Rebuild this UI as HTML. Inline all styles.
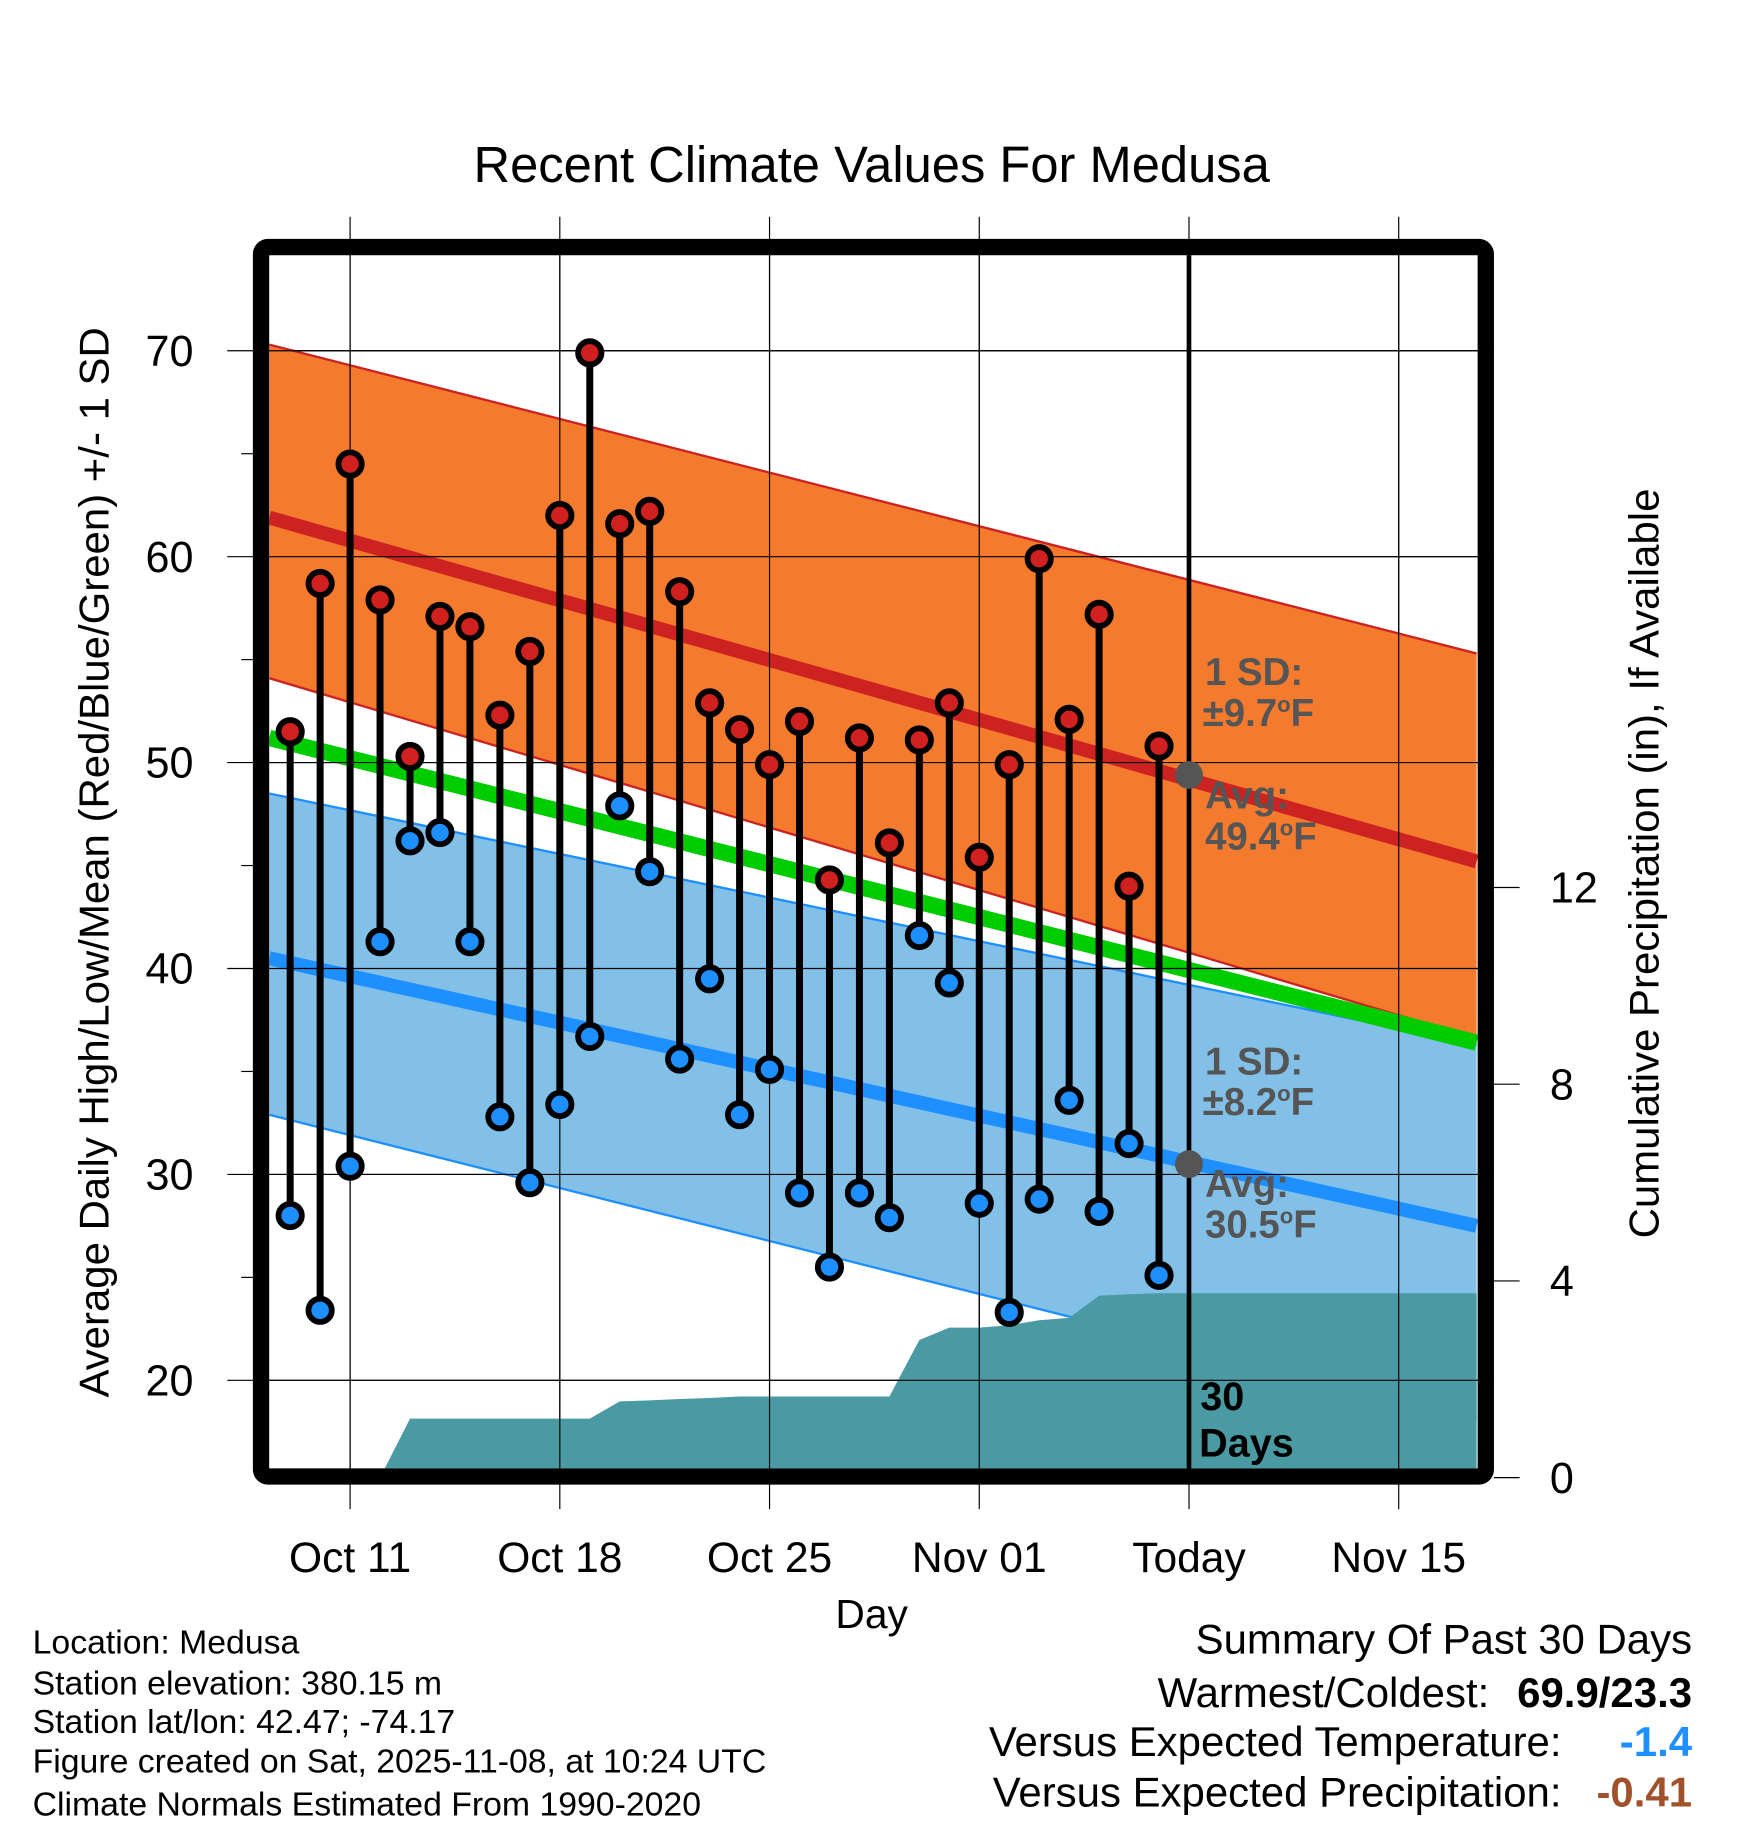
<!DOCTYPE html>
<html><head><meta charset="utf-8"><style>
html,body{margin:0;padding:0;background:#fff;}
svg{display:block;font-family:"Liberation Sans",Arial,sans-serif;}
</style></head><body>
<svg id="chart" width="1748" height="1828" viewBox="0 0 1500 1568.65" xmlns="http://www.w3.org/2000/svg">
<defs><clipPath id="plotclip"><rect x="231" y="219" width="1037" height="1041"/></clipPath></defs>
<rect x="0" y="0" width="1500" height="1569" fill="#fff"/>
<text x="748" y="156" font-size="43.5" text-anchor="middle">Recent Climate Values For Medusa</text>
<g id="grid"></g>
<g id="plot" clip-path="url(#plotclip)"></g>
<g id="marks"></g>
<rect x="224" y="212" width="1051" height="1055" rx="6" fill="none" stroke="#000" stroke-width="14"/>
<g id="axes"></g>
<text transform="translate(93,740) rotate(-90)" font-size="36" text-anchor="middle">Average Daily High/Low/Mean (Red/Blue/Green) +/- 1 SD</text>
<text transform="translate(1423,741) rotate(-90)" font-size="36" text-anchor="middle">Cumulative Precipitation (in), If Available</text>
<text x="748" y="1397" font-size="35" text-anchor="middle">Day</text>
<g font-size="29">
<text x="28" y="1419">Location: Medusa</text>
<text x="28" y="1454">Station elevation: 380.15 m</text>
<text x="28" y="1487">Station lat/lon: 42.47; -74.17</text>
<text x="28" y="1521">Figure created on Sat, 2025-11-08, at 10:24 UTC</text>
<text x="28" y="1558">Climate Normals Estimated From 1990-2020</text>
</g>
<g font-size="36">
<text x="1452" y="1419" text-anchor="end">Summary Of Past 30 Days</text>
<text x="1278" y="1465" text-anchor="end">Warmest/Coldest:</text>
<text x="1452" y="1465" text-anchor="end" font-weight="bold">69.9/23.3</text>
<text x="1340" y="1507" text-anchor="end">Versus Expected Temperature:</text>
<text x="1452" y="1507" text-anchor="end" font-weight="bold" fill="#1e8fff">-1.4</text>
<text x="1340" y="1550" text-anchor="end">Versus Expected Precipitation:</text>
<text x="1452" y="1550" text-anchor="end" font-weight="bold" fill="#a0522d">-0.41</text>
</g>
</svg>
<script>
const highs=[51.5,58.7,64.5,57.9,50.3,57.1,56.6,52.3,55.4,62.0,69.9,61.6,62.2,58.3,52.9,51.6,49.9,52.0,44.3,51.2,46.1,51.1,52.9,45.4,49.9,59.9,52.1,57.2,44.0,50.8];
const lows=[28.0,23.4,30.4,41.3,46.2,46.6,41.3,32.8,29.6,33.4,36.7,47.9,44.7,35.6,39.5,32.9,35.1,29.1,25.5,29.1,27.9,41.6,39.3,28.6,23.3,28.8,33.6,28.2,31.5,25.1];
const precip=[0,0,0,0,1.2,1.2,1.2,1.2,1.2,1.2,1.2,1.55,1.57,1.6,1.62,1.65,1.65,1.65,1.65,1.65,1.65,2.8,3.05,3.05,3.1,3.2,3.25,3.7,3.73,3.75];
const xTickDays=[2,9,16,23,30,37];
const xTickLabels=["Oct 11","Oct 18","Oct 25","Nov 01","Today","Nov 15"];
const yTicks=[20,30,40,50,60,70];
const y2Ticks=[0,4,8,12];
const bandDays=[-0.7,39.6];
const hiUpper=[70.3,55.3];
const hiAvg=[61.9,45.2];
const hiLower=[54.1,36.6];
const meanLine=[51.2,36.4];
const loUpper=[48.5,36.3];
const loAvg=[40.5,27.5];
const loLower=[32.9,18.1];
const todayDay=30;
const todayHigh=49.4, todayLow=30.5;

const NS="http://www.w3.org/2000/svg";
const X=d=>249+d*25.71;
const Y=t=>301+(70-t)*17.67;
const Y2=p=>1268-p*42.2;
function mk(tag,attrs,parent){const e=document.createElementNS(NS,tag);for(const k in attrs)e.setAttribute(k,attrs[k]);parent.appendChild(e);return e;}
const grid=document.getElementById('grid'),plot=document.getElementById('plot'),marks=document.getElementById('marks'),axes=document.getElementById('axes');

xTickDays.forEach((d,i)=>{
 const l=mk('line',{x1:X(d),x2:X(d),y1:186,y2:1295,stroke:'#000','stroke-width':1},grid);
 
 
 const t=mk('text',{x:X(d),y:1349,'font-size':36.5,'text-anchor':'middle'},axes);
 t.textContent=xTickLabels[i];
 
 
});
yTicks.forEach(v=>{
 const l=mk('line',{x1:195,x2:1282,y1:Y(v),y2:Y(v),stroke:'#000','stroke-width':1},grid);
 
 
 const t=mk('text',{x:166,y:Y(v)+13,'font-size':37,'text-anchor':'end'},axes);
 t.textContent=v;
 
 
});
[25,35,45,55,65].forEach(v=>{
 const l=mk('line',{x1:207,x2:217,y1:Y(v),y2:Y(v),stroke:'#000','stroke-width':1},axes);
 
 
});
y2Ticks.forEach(v=>{
 const l=mk('line',{x1:1282,x2:1304,y1:Y2(v),y2:Y2(v),stroke:'#000','stroke-width':1},axes);
 
 
 const t=mk('text',{x:1330,y:Y2(v)+13,'font-size':37,'text-anchor':'start'},axes);
 t.textContent=v;
 
 
});

function band(up,lo,fill,name){
 const p=mk('polygon',{points:`${X(bandDays[0])},${Y(up[0])} ${X(bandDays[1])},${Y(up[1])} ${X(bandDays[1])},${Y(lo[1])} ${X(bandDays[0])},${Y(lo[0])}`,fill:fill},plot);
 
 
}
function line(v,color,w,name){
 const l=mk('line',{x1:X(bandDays[0]),y1:Y(v[0]),x2:X(bandDays[1]),y2:Y(v[1]),stroke:color,'stroke-width':w},plot);
 
 
}
band(loUpper,loLower,'#82c0e8','low-sd-band');
line(loUpper,'#1e8fff',2,'low-sd-upper');
line(loLower,'#1e8fff',2,'low-sd-lower');
band(hiUpper,hiLower,'#f47a2e','high-sd-band');
line(hiUpper,'#cc2222',2,'high-sd-upper');
line(hiLower,'#cc2222',2,'high-sd-lower');
let pts=`${X(0)},${Y2(0)} `;
precip.forEach((p,i)=>{pts+=`${X(i)},${Y2(p)} `;});
pts+=`${X(bandDays[1])},${Y2(precip[precip.length-1])} ${X(bandDays[1])},${Y2(0)}`;
const pr=mk('polygon',{points:pts,fill:'#4a9aa3'},plot);


line(meanLine,'#00cc00',14,'mean-normal-line');
line(hiAvg,'#cc2222',12,'high-normal-line');
line(loAvg,'#1e8fff',12,'low-normal-line');

xTickDays.forEach(d=>{const l=mk('line',{x1:X(d),x2:X(d),y1:219,y2:1260,stroke:'#000','stroke-width':1},plot);});
yTicks.forEach(v=>{const l=mk('line',{x1:231,x2:1268,y1:Y(v),y2:Y(v),stroke:'#000','stroke-width':1},plot);});

const tl=mk('line',{x1:X(todayDay),x2:X(todayDay),y1:219,y2:1260,stroke:'#000','stroke-width':4},marks);


const g1=mk('circle',{cx:X(todayDay),cy:Y(todayHigh),r:12,fill:'#555'},marks);


const g2=mk('circle',{cx:X(todayDay),cy:Y(todayLow),r:12,fill:'#555'},marks);



highs.forEach((h,i)=>{
 const s=mk('line',{x1:X(i),x2:X(i),y1:Y(h),y2:Y(lows[i]),stroke:'#000','stroke-width':6},marks);
 
 
});
highs.forEach((h,i)=>{
 const c=mk('circle',{cx:X(i),cy:Y(h),r:10,fill:'#d02020',stroke:'#000','stroke-width':5},marks);
 
 
 const c2=mk('circle',{cx:X(i),cy:Y(lows[i]),r:10,fill:'#1e8fff',stroke:'#000','stroke-width':5},marks);
 
 
});

function txt(x,y,s,fill,name,fs){const t=mk('text',{x:x,y:y,'font-size':fs||33,'font-weight':'bold',fill:fill},marks);t.innerHTML=s;}
txt(1034,588,'1 SD:','#555','high-sd-label');
txt(1032,623,'±9.7<tspan font-size="19" dy="-12">o</tspan><tspan dy="12">F</tspan>','#555','high-sd-value');
txt(1034,694,'Avg:','#555','high-avg-label');
txt(1034,729,'49.4<tspan font-size="19" dy="-12">o</tspan><tspan dy="12">F</tspan>','#555','high-avg-value');
txt(1034,922,'1 SD:','#555','low-sd-label');
txt(1032,957,'±8.2<tspan font-size="19" dy="-12">o</tspan><tspan dy="12">F</tspan>','#555','low-sd-value');
txt(1034,1027,'Avg:','#555','low-avg-label');
txt(1034,1062,'30.5<tspan font-size="19" dy="-12">o</tspan><tspan dy="12">F</tspan>','#555','low-avg-value');
txt(1030,1210,'30','#000','days-count',34);
txt(1029,1250,'Days','#000','days-label',34);
</script>
</body></html>
